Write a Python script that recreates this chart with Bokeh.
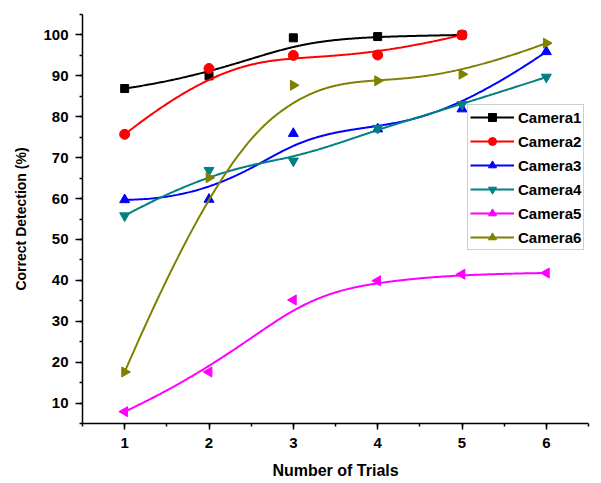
import numpy as np
from bokeh.plotting import figure
from bokeh.models import SingleIntervalTicker, Range1d, Legend, LegendItem, ColumnDataSource
from bokeh.embed import file_html
from bokeh.resources import INLINE

trials = [1, 2, 3, 4, 5, 6]
camera1 = [86.9, 90.0, 99.3, 99.6, 100.0]
camera2 = [75.7, 91.8, 95.0, 95.1, 100.0]
camera3 = [59.7, 59.8, 75.9, 77.0, 81.9, 95.9]
camera4 = [55.8, 66.9, 69.2, 77.2, 83.0, 89.7]
camera5 = [7.9, 17.6, 35.2, 39.9, 41.5, 41.8]
camera6 = [17.6, 65.1, 87.7, 88.8, 90.4, 98.0]

names = ["Camera1", "Camera2", "Camera3", "Camera4", "Camera5", "Camera6"]
series = [camera1, camera2, camera3, camera4, camera5, camera6]
colors = ["#000000", "#ff0000", "#0000ff", "#008080", "#ff00ff", "#808000"]
markers = ["square", "circle", "triangle", "inverted_triangle", "triangle", "triangle"]
angles = [0, 0, 0, 0, np.pi / 2, -np.pi / 2]
sizes = [8, 10, 10, 10, 10, 10]


def basis(i, k, t, knots):
    if k == 0:
        last = knots[-1]
        if knots[i + 1] == last:
            return np.where((t >= knots[i]) & (t <= knots[i + 1]), 1.0, 0.0)
        return np.where((t >= knots[i]) & (t < knots[i + 1]), 1.0, 0.0)
    out = np.zeros_like(t)
    d1 = knots[i + k] - knots[i]
    if d1 > 0:
        out = out + (t - knots[i]) / d1 * basis(i, k - 1, t, knots)
    d2 = knots[i + k + 1] - knots[i + 1]
    if d2 > 0:
        out = out + (knots[i + k + 1] - t) / d2 * basis(i + 1, k - 1, t, knots)
    return out


def bspline(xs, ys, n=300):
    xs = np.asarray(xs, float)
    ys = np.asarray(ys, float)
    m = len(xs)
    deg = min(3, m - 1)
    knots = [0.0] * (deg + 1) + [float(v) for v in range(1, m - deg)] + [float(m - deg)] * (deg + 1)
    t = np.linspace(0, m - deg, n)
    bx = np.zeros(n)
    by = np.zeros(n)
    for i in range(m):
        b = basis(i, deg, t, knots)
        bx += b * xs[i]
        by += b * ys[i]
    return bx, by


p = figure(width=600, height=483, output_backend="svg", toolbar_location=None,
           x_range=Range1d(0.5, 6.5), y_range=Range1d(5, 105),
           min_border_left=82, min_border_right=12, min_border_top=14, min_border_bottom=60)
p.outline_line_color = None
p.grid.visible = False
p.background_fill_color = "white"

items = []
for name, vals, c, mk, ang, sz in zip(names, series, colors, markers, angles, sizes):
    xs = trials[:len(vals)]
    cx, cy = bspline(xs, vals)
    lr = p.line(cx, cy, line_color=c, line_width=2)
    src = ColumnDataSource(dict(x=xs, y=vals, a=[ang] * len(xs)))
    sr = p.scatter("x", "y", source=src, marker=mk, angle="a", size=sz,
                   fill_color=c, line_color=c)
    items.append(LegendItem(label=name, renderers=[lr, sr], index=0))

p.xaxis.ticker = SingleIntervalTicker(interval=1, num_minor_ticks=2)
p.yaxis.ticker = SingleIntervalTicker(interval=10, num_minor_ticks=2)

for ax in (p.xaxis[0], p.yaxis[0]):
    ax.axis_line_width = 1.5
    ax.axis_line_color = "black"
    ax.major_tick_line_color = "black"
    ax.minor_tick_line_color = "black"
    ax.major_tick_line_width = 1.5
    ax.minor_tick_line_width = 1.5
    ax.major_tick_in = 0
    ax.minor_tick_in = 0
    ax.minor_tick_out = 3
    ax.major_label_text_font = "Liberation Sans"
    ax.major_label_text_font_style = "bold"
    ax.major_label_text_font_size = "15px"
    ax.major_label_text_color = "black"
    ax.axis_label_text_font = "Liberation Sans"
    ax.axis_label_text_font_style = "bold"
    ax.axis_label_text_color = "black"

p.yaxis.major_tick_out = 7
p.yaxis.major_label_standoff = 7
p.yaxis.axis_label = "Correct Detection (%)"
p.yaxis.axis_label_text_font_size = "14px"
p.yaxis.axis_label_standoff = 11

p.xaxis.major_tick_out = 6
p.xaxis.major_label_standoff = 8
p.xaxis.axis_label = "Number of Trials"
p.xaxis.axis_label_text_font_size = "16px"
p.xaxis.axis_label_standoff = 11

legend = Legend(items=items, location=(385, 173))
legend.label_text_font = "Liberation Sans"
legend.label_text_font_style = "bold"
legend.label_text_font_size = "15px"
legend.label_text_color = "black"
legend.glyph_width = 44
legend.glyph_height = 20
legend.label_height = 20
legend.label_standoff = 4
legend.spacing = 4
legend.padding = 2
legend.margin = 0
legend.border_line_color = "#a0a0a0"
legend.border_line_width = 1
legend.background_fill_color = "white"
legend.background_fill_alpha = 1.0
p.add_layout(legend)

open("out.html", "w").write(file_html(p, INLINE))
